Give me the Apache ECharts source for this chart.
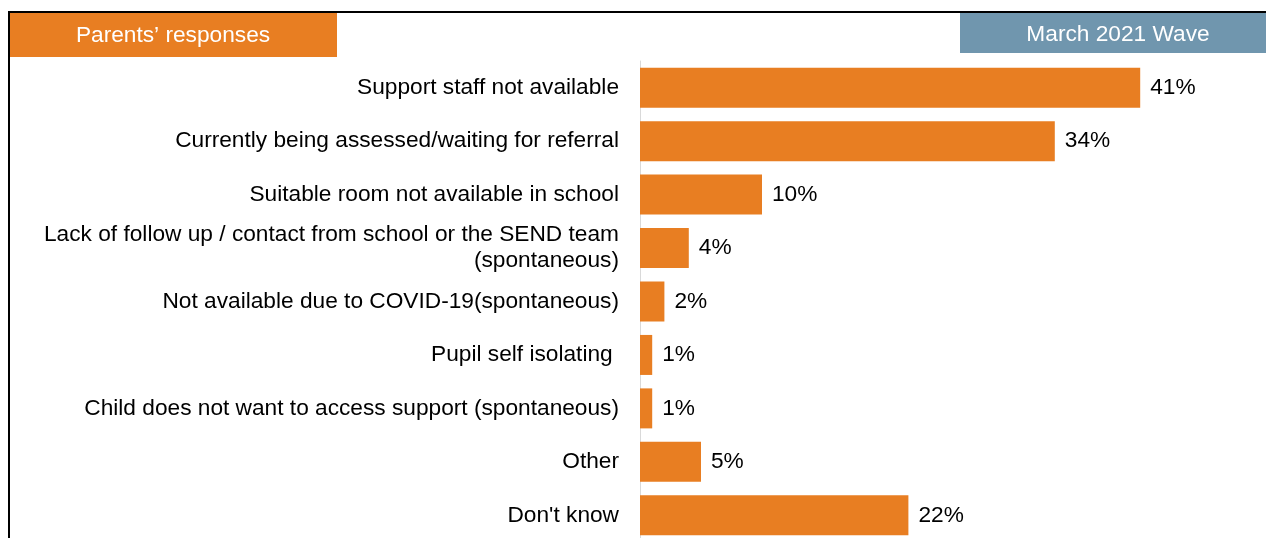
<!DOCTYPE html>
<html>
<head>
<meta charset="utf-8">
<script src="https://cdn.jsdelivr.net/npm/echarts@6/dist/echarts.min.js"></script>
<style>
	html, body { margin: 0; padding: 0; background: #fff; }
	#chart01 { width: 1266px; height: 538px; }
</style>
</head>
<body>
<div id="chart01"></div>
<script>
// 항목 (위에서 아래 순서)
const categories = [
	'Support staff not available',
	'Currently being assessed/waiting for referral',
	'Suitable room not available in school',
	'Lack of follow up / contact from school or the SEND team\n(spontaneous)',
	'Not available due to COVID-19(spontaneous)',
	'Pupil self isolating ',
	'Child does not want to access support (spontaneous)',
	'Other',
	"Don't know",
];
// 응답 비율(%)
const values = [41, 34, 10, 4, 2, 1, 1, 5, 22];

const headerLeft = 'Parents\u2019 responses';
const headerRight = 'March 2021 Wave';

const ORANGE = '#E87E22';
const SLATE = '#7096AE';
const FONT = '"Liberation Sans", Arial, sans-serif';
const FS = 22.7;

const myChart = echarts.init(document.getElementById('chart01'), null, { renderer: 'canvas' });

const option = {
	animation: false,
	grid: {
		left: 640,
		top: 61,
		width: 610,
		height: 481,
		containLabel: false,
		outerBoundsMode: 'none',  // 캔버스 밖으로 grid 확장 허용
	},
	xAxis: {
		type: 'value',
		min: 0,
		max: 50,
		show: false,
	},
	yAxis: {
		type: 'category',
		data: categories,
		inverse: true,
		axisLine: { show: true, lineStyle: { color: '#d9d9d9', width: 1 } },
		axisTick: { show: false },
		axisLabel: {
			margin: 21,
			color: '#000',
			fontSize: FS,
			fontFamily: FONT,
			lineHeight: 26,
			align: 'right',
			padding: [3, 0, 0, 0],
		},
	},
	series: [
		{
			type: 'bar',
			data: values,
			barWidth: 40,
			itemStyle: { color: ORANGE },
			label: {
				show: true,
				position: 'right',
				distance: 10,
				formatter: '{c}%',
				color: '#000',
				fontSize: FS,
				fontFamily: FONT,
				padding: [3, 0, 0, 0],
			},
		},
	],
	graphic: [
		// 상단 테두리
		{ type: 'line', shape: { x1: 9, y1: 12, x2: 1266, y2: 12 }, style: { stroke: '#000', lineWidth: 2 } },
		// 좌측 테두리
		{ type: 'line', shape: { x1: 9, y1: 11, x2: 9, y2: 538 }, style: { stroke: '#000', lineWidth: 2 } },
		// 좌측 헤더
		{
			type: 'rect',
			shape: { x: 10, y: 13, width: 327, height: 44 },
			style: { fill: ORANGE },
		},
		{
			type: 'text',
			x: 173, y: 36,
			style: { text: headerLeft, fill: '#fff', font: FS + 'px ' + FONT, align: 'center', verticalAlign: 'middle' },
		},
		// 우측 헤더
		{
			type: 'rect',
			shape: { x: 960, y: 13, width: 306, height: 40 },
			style: { fill: SLATE },
		},
		{
			type: 'text',
			x: 1118, y: 35,
			style: { text: headerRight, fill: '#fff', font: FS + 'px ' + FONT, align: 'center', verticalAlign: 'middle' },
		},
	],
};
myChart.setOption(option);

window.addEventListener('resize', myChart.resize);
</script>
</body>
</html>
